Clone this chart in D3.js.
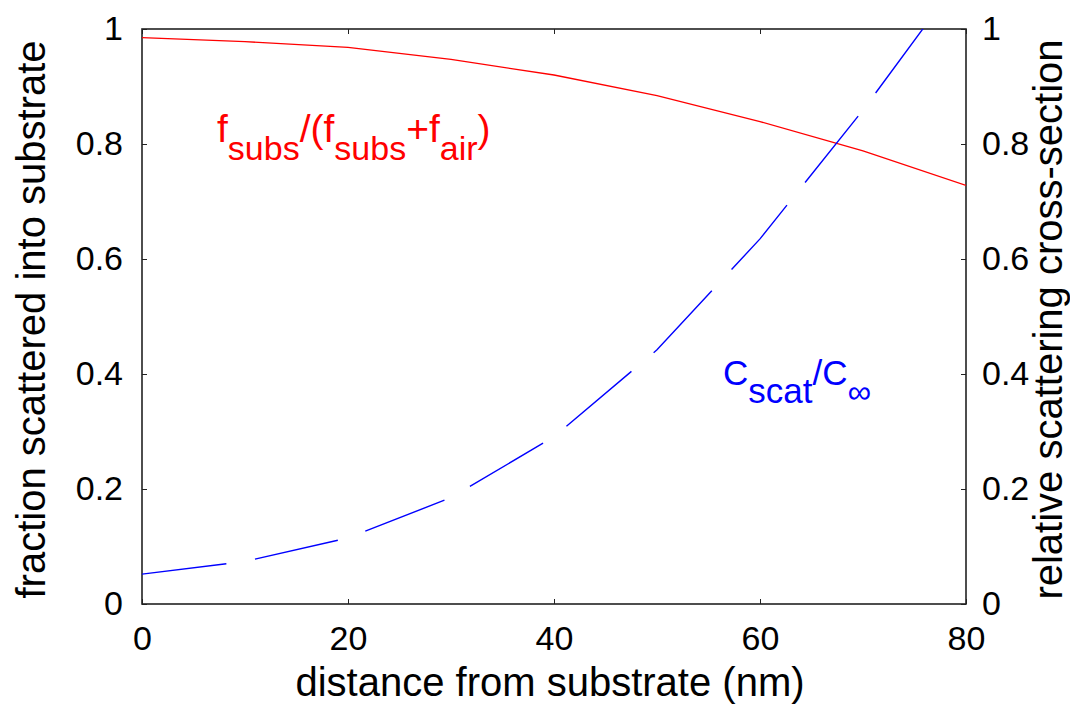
<!DOCTYPE html>
<html>
<head>
<meta charset="utf-8">
<script src="https://cdn.jsdelivr.net/npm/d3@7"></script>
<style>
  html, body { margin: 0; padding: 0; background: #fff; }
  svg { display: block; }
  text { font-family: "Liberation Sans", Arial, Helvetica, sans-serif; }
</style>
</head>
<body>
<svg id="chart" width="1070" height="709"></svg>
<script>
// distance from substrate (nm)
const distance = [0, 10, 20, 30, 40, 50, 60, 70, 80];
// fraction of scattered light going into the substrate, f_subs/(f_subs+f_air)
const fracSubstrate = [0.985, 0.978, 0.968, 0.947, 0.920, 0.884, 0.839, 0.788, 0.728];
// relative scattering cross-section, C_scat/C_inf
const relCrossSection = [0.052, 0.074, 0.115, 0.185, 0.291, 0.442, 0.635, 0.859, 1.102];

const xTicks = [0, 20, 40, 60, 80];
const yTicks = [0, 0.2, 0.4, 0.6, 0.8, 1];

const svg = d3.select("#chart");
const box = { left: 142, right: 966, top: 29, bottom: 604 };

const x = d3.scaleLinear().domain([0, 80]).range([box.left, box.right]);
const yL = d3.scaleLinear().domain([0, 1]).range([box.bottom, box.top]);
const yR = d3.scaleLinear().domain([0, 1]).range([box.bottom, box.top]);

const fmt = d3.format("~g");
const tickFont = 34;
const titleFont = 40;

svg.append("defs").append("clipPath").attr("id", "plotClip")
  .append("rect")
  .attr("x", box.left).attr("y", box.top)
  .attr("width", box.right - box.left).attr("height", box.bottom - box.top);

// axes (ticks point inward, as on a boxed plot)
function styleAxis(g) {
  g.select(".domain").remove();
  g.selectAll(".tick line").attr("stroke", "#222").attr("stroke-width", 1);
  g.selectAll(".tick text").attr("fill", "#000").attr("font-size", tickFont)
    .attr("font-family", "Liberation Sans, Arial, sans-serif");
}

svg.append("g").attr("transform", `translate(0,${box.bottom})`)
  .call(d3.axisBottom(x).tickValues(xTicks).tickFormat(fmt).tickSizeInner(-5).tickPadding(12))
  .call(styleAxis)
  .selectAll(".tick text").attr("dy", "0.71em").attr("y", 22);

svg.append("g").attr("transform", `translate(0,${box.top})`)
  .call(d3.axisTop(x).tickValues(xTicks).tickFormat("").tickSizeInner(-5))
  .call(styleAxis);

svg.append("g").attr("transform", `translate(${box.left},0)`)
  .call(d3.axisLeft(yL).tickValues(yTicks).tickFormat(fmt).tickSizeInner(-5).tickPadding(19))
  .call(styleAxis);

svg.append("g").attr("transform", `translate(${box.right},0)`)
  .call(d3.axisRight(yR).tickValues(yTicks).tickFormat(fmt).tickSizeInner(-5).tickPadding(16))
  .call(styleAxis);

// frame
svg.append("rect")
  .attr("x", box.left).attr("y", box.top)
  .attr("width", box.right - box.left).attr("height", box.bottom - box.top)
  .attr("fill", "none").attr("stroke", "#222").attr("stroke-width", 1.6);

const plot = svg.append("g").attr("clip-path", "url(#plotClip)");

const lineL = d3.line().x((d, i) => x(distance[i])).y(d => yL(d));
const lineR = d3.line().x((d, i) => x(distance[i])).y(d => yR(d));

plot.append("path").datum(fracSubstrate)
  .attr("d", lineL).attr("fill", "none")
  .attr("stroke", "#ff0000").attr("stroke-width", 1.3);

plot.append("path").datum(relCrossSection)
  .attr("d", lineR).attr("fill", "none")
  .attr("stroke", "#0000ff").attr("stroke-width", 1.4)
  .attr("stroke-dasharray", "85 29");

// axis titles
svg.append("text")
  .attr("transform", `translate(${x(40) - 4},696)`)
  .attr("text-anchor", "middle").attr("font-size", titleFont)
  .text("distance from substrate (nm)");

svg.append("text")
  .attr("transform", `translate(45,${(box.top + box.bottom) / 2 + 3}) rotate(-90)`)
  .attr("text-anchor", "middle").attr("font-size", titleFont)
  .text("fraction scattered into substrate");

svg.append("text")
  .attr("transform", `translate(1062,${(box.top + box.bottom) / 2 + 3}) rotate(-90)`)
  .attr("text-anchor", "middle").attr("font-size", titleFont)
  .text("relative scattering cross-section");

// curve annotations with subscripts
function annotate(parts, px, py, color, size, subSize, subShift) {
  const t = svg.append("text").attr("x", px).attr("y", py)
    .attr("fill", color).attr("font-size", size);
  let down = false;
  parts.forEach(p => {
    const s = t.append("tspan").text(p.text);
    if (p.sub && !down) { s.attr("dy", subShift); down = true; }
    else if (!p.sub && down) { s.attr("dy", -subShift); down = false; }
    s.attr("font-size", p.sub ? (p.subSize || subSize) : size);
  });
  return t;
}

annotate([
  { text: "f" }, { text: "subs", sub: true }, { text: "/(f" },
  { text: "subs", sub: true }, { text: "+f" }, { text: "air", sub: true }, { text: ")" }
], 217, 142, "#ff0000", 39, 34, 18);

annotate([
  { text: "C" }, { text: "scat", sub: true }, { text: "/C" }, { text: "\u221e", sub: true, subSize: 33 }
], 723, 385, "#0000ff", 35, 35, 18);
</script>
</body>
</html>
